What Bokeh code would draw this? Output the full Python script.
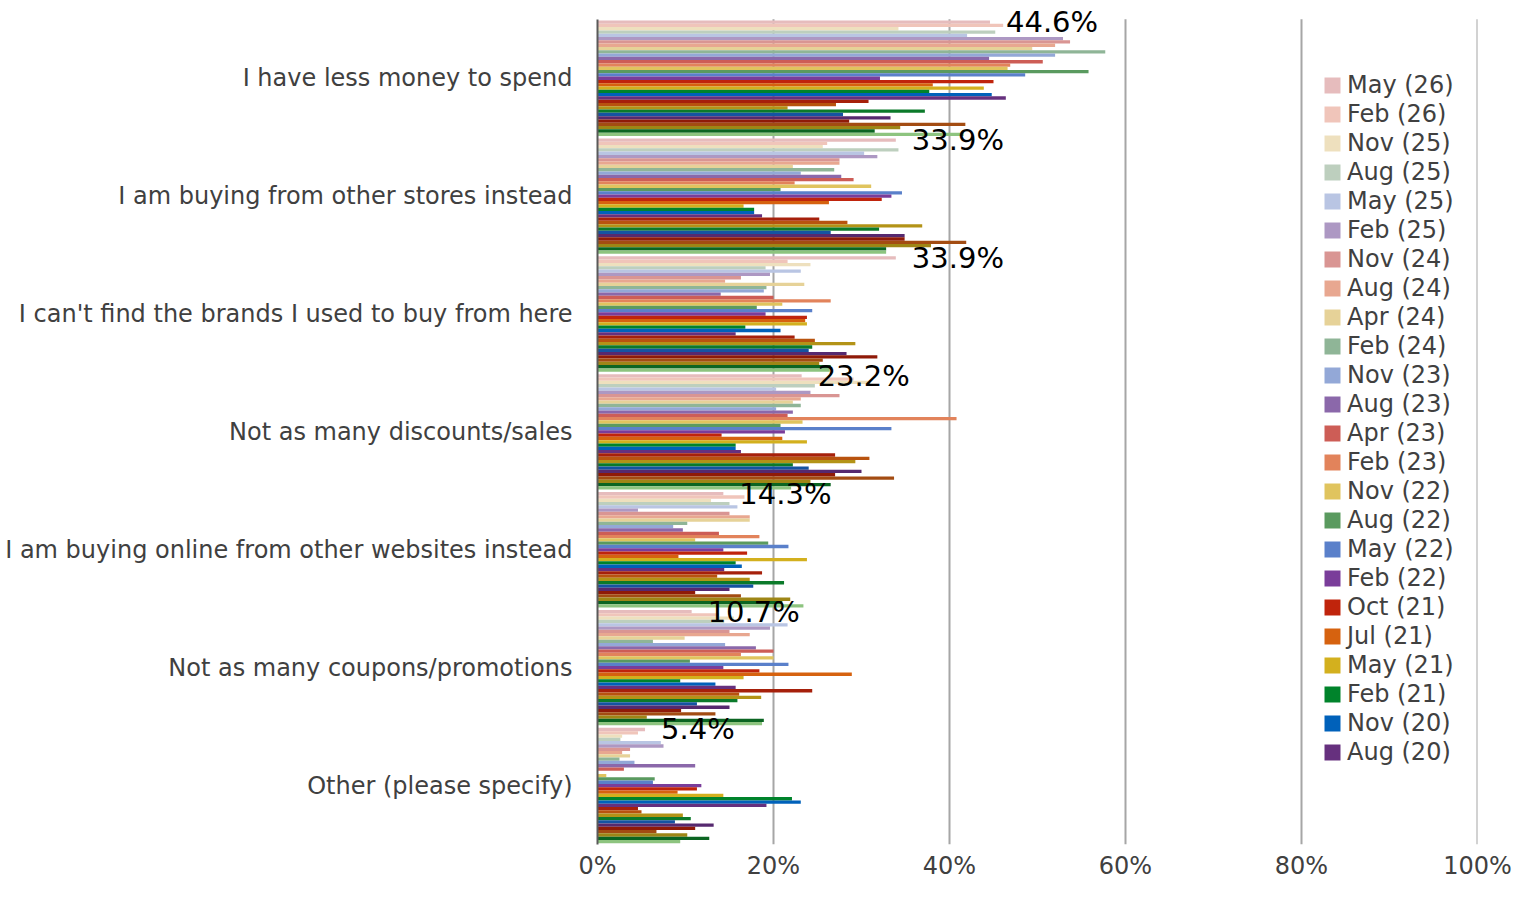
from bokeh.plotting import figure
from bokeh.models import (Range1d, FixedTicker, PrintfTickFormatter,
                          Legend, LegendItem, ColumnDataSource)
from bokeh.transform import dodge
from bokeh.embed import file_html
from bokeh.resources import INLINE
from bokeh.core.properties import value

categories = [
    "I have less money to spend",
    "I am buying from other stores instead",
    "I can't find the brands I used to buy from here",
    "Not as many discounts/sales",
    "I am buying online from other websites instead",
    "Not as many coupons/promotions",
    "Other (please specify)",
]

legend_names = [
    "May (26)", "Feb (26)", "Nov (25)", "Aug (25)", "May (25)", "Feb (25)",
    "Nov (24)", "Aug (24)", "Apr (24)", "Feb (24)", "Nov (23)", "Aug (23)",
    "Apr (23)", "Feb (23)", "Nov (22)", "Aug (22)", "May (22)", "Feb (22)",
    "Oct (21)", "Jul (21)", "May (21)", "Feb (21)", "Nov (20)", "Aug (20)",
]
# further (older) waves are drawn but not listed in the legend
extra_names = ["Series %d" % i for i in range(25, 36)]
series_names = legend_names + extra_names

colors = [
    "#E6BCBD", "#F0C5BA", "#EEE0BE", "#BDCFBE", "#B9C5E3", "#AD98C3",
    "#D99593", "#E8A790", "#E6D298", "#8FB597", "#93A8D7", "#8B68AA",
    "#CD5D56", "#E2835B", "#E0C45E", "#5A9A5F", "#5A80CA", "#7A3D9A",
    "#C0240C", "#D6620F", "#D3B01E", "#00832B", "#0061BA", "#66307E",
    "#A6200B", "#B8530F", "#B39317", "#0B7A2A", "#1553A2", "#56296F",
    "#8F1A08", "#A34C12", "#9E8616", "#0B6522", "#8DC47F",
]

# values (%) per category, in series order (May (26) first)
less_money = [44.6, 46.1, 34.2, 45.2, 42.0, 52.9, 53.7, 52.0, 49.4, 57.7, 52.0, 44.5,
              50.6, 46.9, 46.6, 55.8, 48.6, 32.1, 45.0, 38.1, 43.9, 37.7, 44.8, 46.4,
              30.8, 27.1, 21.6, 37.2, 27.9, 33.3, 28.6, 41.8, 34.4, 31.5, 41.6]
other_stores = [33.9, 26.1, 25.6, 34.2, 30.3, 31.8, 27.5, 27.5, 22.2, 26.9, 23.1, 27.7,
                29.1, 22.4, 31.1, 20.8, 34.6, 33.4, 32.3, 26.3, 16.6, 17.8, 17.8, 18.7,
                25.2, 28.4, 36.9, 32.0, 26.5, 34.9, 34.9, 41.9, 37.9, 32.8, 32.8]
cant_find = [33.9, 21.6, 24.2, 19.1, 23.1, 19.6, 16.3, 14.5, 23.5, 19.2, 18.9, 14.0,
             20.0, 26.5, 21.0, 18.1, 24.4, 19.1, 23.8, 23.6, 23.8, 16.8, 20.8, 15.7,
             22.4, 24.7, 29.3, 24.4, 24.0, 28.3, 31.8, 25.6, 25.2, 26.5, 26.4]
fewer_discounts = [23.2, 29.1, 31.0, 24.7, 20.3, 24.2, 27.5, 23.1, 22.2, 23.1, 20.3, 22.2,
                   21.6, 40.8, 23.3, 20.8, 33.4, 21.3, 14.1, 21.0, 23.8, 15.7, 15.7, 16.3,
                   27.0, 30.9, 29.3, 22.2, 24.0, 30.0, 27.0, 33.7, 24.2, 26.5, 22.0]
online_other = [14.3, 16.7, 12.9, 15.0, 15.9, 4.6, 15.0, 17.3, 17.3, 10.2, 8.6, 9.7,
                13.8, 18.4, 11.1, 19.4, 21.7, 14.3, 17.0, 9.2, 23.8, 15.7, 16.4, 14.4,
                18.7, 13.6, 17.3, 21.2, 17.7, 15.0, 11.1, 16.3, 21.9, 21.0, 23.4]
fewer_coupons = [10.7, 13.8, 15.5, 14.4, 21.6, 19.6, 15.0, 17.3, 9.9, 6.3, 14.5, 18.0,
                 20.0, 16.3, 20.0, 10.5, 21.7, 14.3, 18.4, 28.9, 16.6, 9.4, 13.4, 15.7,
                 24.4, 16.1, 18.6, 15.9, 11.3, 15.0, 9.5, 13.4, 5.6, 18.9, 18.7]
other_specify = [5.4, 4.6, 2.8, 2.6, 7.2, 7.5, 3.7, 2.8, 3.7, 2.5, 4.2, 11.1,
                 3.0, 0.0, 1.0, 6.5, 6.3, 11.8, 11.3, 9.1, 14.3, 22.1, 23.1, 19.2,
                 4.6, 5.0, 9.7, 10.6, 8.8, 13.2, 11.1, 6.7, 10.2, 12.7, 9.4]

by_category = [less_money, other_stores, cant_find, fewer_discounts,
               online_other, fewer_coupons, other_specify]

x_ticks = [0, 20, 40, 60, 80, 100]

FONT = "DejaVu Sans"
TXT = "#404040"

# category slots: first category at the top
n_cat = len(categories)
cat_pos = [n_cat - 1 - k + 0.5 for k in range(n_cat)]
TOP_PAD = 0.1   # headroom above the plot area so the top data label is not cut

p = figure(width=1522, height=883, output_backend="svg", toolbar_location=None,
           y_range=Range1d(0, n_cat + TOP_PAD), x_range=Range1d(0, 100))
p.min_border_left = 597
p.min_border_right = 45
p.min_border_top = 7
p.min_border_bottom = 39
p.outline_line_color = None
p.background_fill_color = "white"
p.border_fill_color = "white"

# vertical grid lines spanning only the category area
p.xgrid.grid_line_color = None
p.ygrid.grid_line_color = None
grid_src = ColumnDataSource(dict(x=x_ticks[1:], y0=[0] * (len(x_ticks) - 1),
                                 y1=[n_cat] * (len(x_ticks) - 1)))
p.segment(x0="x", x1="x", y0="y0", y1="y1", source=grid_src,
          line_color="#A6A6A6", line_width=2, level="underlay")

n = len(series_names)
group = 0.979
h = group / n
renderers = []
for i, name in enumerate(series_names):
    vals = [cat_vals[i] for cat_vals in by_category]
    src = ColumnDataSource(dict(pos=cat_pos, val=vals))
    off = group / 2 - (i + 0.5) * h
    r = p.hbar(y=dodge("pos", off), left=0, right="val", height=h,
               source=src, fill_color=colors[i], line_color=None)
    renderers.append(r)

# data labels for the most recent wave
lab_src = ColumnDataSource(dict(pos=cat_pos, val=[c[0] for c in by_category],
                                txt=["%.1f%%" % c[0] for c in by_category]))
p.text(x="val", y=dodge("pos", group / 2 - 0.5 * h), text="txt", source=lab_src,
       x_offset=16, text_baseline="middle", text_align="left",
       text_font=value(FONT), text_font_size=value("29px"), text_color="black")

# axes
p.xaxis.ticker = FixedTicker(ticks=x_ticks)
p.xaxis.formatter = PrintfTickFormatter(format="%d%%")
p.xaxis.axis_line_color = None
p.xaxis.major_tick_line_color = None
p.xaxis.minor_tick_line_color = None
p.xaxis.major_tick_out = 0
p.xaxis.minor_tick_out = 0
p.xaxis.major_label_text_font = FONT
p.xaxis.major_label_text_font_size = "24px"
p.xaxis.major_label_text_color = TXT
p.xaxis.major_label_standoff = 7

p.yaxis.ticker = FixedTicker(ticks=cat_pos)
p.yaxis.major_label_overrides = {pos: name for pos, name in zip(cat_pos, categories)}
p.yaxis.bounds = (0, n_cat)
p.yaxis.axis_line_color = "#5A5A5A"
p.yaxis.axis_line_width = 2
p.yaxis.major_tick_line_color = None
p.yaxis.minor_tick_line_color = None
p.yaxis.major_tick_out = 0
p.yaxis.minor_tick_out = 0
p.yaxis.major_label_text_font = FONT
p.yaxis.major_label_text_font_size = "24px"
p.yaxis.major_label_text_color = TXT
p.yaxis.major_label_standoff = 25

legend = Legend(
    items=[LegendItem(label=series_names[i], renderers=[renderers[i]]) for i in range(len(legend_names))],
    location=(725, 78), orientation="vertical",
    glyph_width=20, glyph_height=20, label_height=29, spacing=0,
    label_standoff=5, padding=0, margin=0,
    border_line_color=None, background_fill_alpha=0,
    label_text_font=FONT, label_text_font_size="24px", label_text_color=TXT,
)
p.add_layout(legend)

open("out.html", "w").write(file_html(p, INLINE))
